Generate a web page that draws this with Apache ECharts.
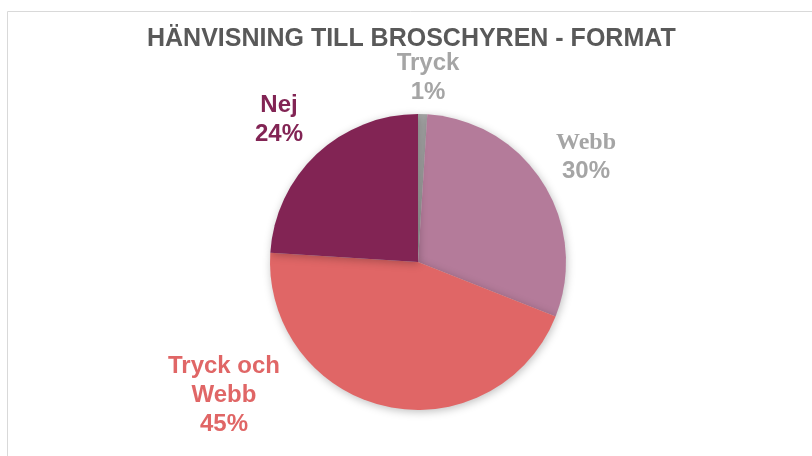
<!DOCTYPE html>
<html><head><meta charset="utf-8">
<script src="https://cdn.jsdelivr.net/npm/echarts@6/dist/echarts.min.js"></script>
<style>html,body{margin:0;padding:0;background:#fff}#c{width:812px;height:456px}</style>
</head><body><div id="c"></div>
<script>
const categories = ['Tryck', 'Webb', 'Tryck och\nWebb', 'Nej'];
const values = [1, 30, 45, 24];
const colors = ['#A5A5A5', '#B47B9A', '#E06666', '#822454'];
const labelColors = ['#A5A5A5', '#A5A5A5', '#E06666', '#822454'];
const labelPos = [[428, 78], [586, 157], [224, 395], [279, 120]];

const chart = echarts.init(document.getElementById('c'));
chart.setOption({
  animation: false,
  title: {
    text: 'HÄNVISNING TILL BROSCHYREN - FORMAT',
    left: 142, top: 22,
    textStyle: { fontFamily: 'Liberation Sans, Arial', fontWeight: 'bold', fontSize: 25, color: '#595959' }
  },
  graphic: [{
    type: 'rect', silent: true, z: -1,
    shape: { x: 7.5, y: 11.5, width: 900, height: 500 },
    style: { fill: 'none', stroke: '#D9D9D9', lineWidth: 1 }
  }],
  series: [{
    type: 'pie',
    center: [418, 262],
    radius: 148,
    startAngle: 90,
    clockwise: true,
    data: categories.map((n, i) => ({
      name: n, value: values[i],
      itemStyle: { color: colors[i] },
      label: { color: labelColors[i] }
    })),
    itemStyle: { shadowBlur: 8, shadowColor: 'rgba(0,0,0,0.25)', shadowOffsetX: 1, shadowOffsetY: 2 },
    label: {
      show: true,
      position: 'outside',
      fontFamily: 'Liberation Sans, Arial',
      fontWeight: 'bold',
      fontSize: 24,
      lineHeight: 29,
      align: 'center',
      formatter: p => {
        const pct = p.value + '%';
        if (p.name === 'Webb') return '{serif|Webb}\n' + pct;
        return p.name + '\n' + pct;
      },
      rich: {
        serif: { fontFamily: 'Liberation Serif, Times New Roman', fontWeight: 'bold', fontSize: 24, lineHeight: 29, color: '#A5A5A5' }
      }
    },
    labelLine: { show: false },
    labelLayout: p => ({ x: labelPos[p.dataIndex][0], y: labelPos[p.dataIndex][1], align: 'center', verticalAlign: 'middle' })
  }]
});
</script></body></html>
